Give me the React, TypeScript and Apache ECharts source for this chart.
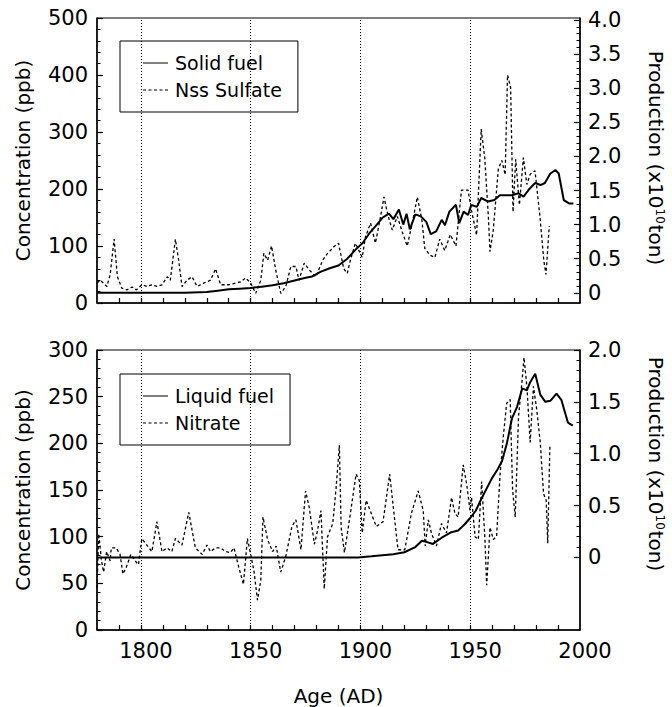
import React, { useEffect, useRef } from "react";
import * as echarts from "echarts";

// ---- Data (year, value) ----
// Solid fuel production (x10^10 ton), right axis of top panel
const solidFuel: [number, number][] = [
  [1780, 0.0], [1790, 0.0], [1800, 0.0], [1810, 0.0], [1820, 0.0], [1830, 0.01],
  [1835, 0.03], [1840, 0.05], [1845, 0.06], [1850, 0.07], [1855, 0.09], [1860, 0.11],
  [1865, 0.14], [1870, 0.18], [1875, 0.22], [1878, 0.24], [1882, 0.31], [1886, 0.36],
  [1890, 0.4], [1894, 0.5], [1898, 0.64], [1901, 0.73], [1904, 0.87], [1907, 0.98],
  [1910, 1.1], [1913, 1.16], [1915, 1.08], [1917.5, 1.22], [1919.5, 1.0], [1921, 1.16],
  [1922.5, 0.93], [1925, 1.15], [1927.5, 1.12], [1930, 1.04], [1932, 0.86], [1934.5, 0.9],
  [1937, 1.07], [1938.5, 0.99], [1940.5, 1.19], [1943.5, 1.29], [1945, 1.02], [1947, 1.19],
  [1949, 1.14], [1950.5, 1.29], [1953, 1.26], [1955, 1.39], [1958, 1.34], [1961, 1.36],
  [1963.5, 1.43], [1969, 1.43], [1972, 1.46], [1974.3, 1.41], [1976.6, 1.51], [1979.6, 1.61],
  [1982, 1.58], [1984, 1.61], [1986.5, 1.75], [1988.8, 1.8], [1990.3, 1.75], [1992.6, 1.36],
  [1995, 1.31], [1997, 1.31],
];

// Nss Sulfate concentration (ppb), left axis of top panel
const nssSulfate: [number, number][] = [
  [1780, 35], [1781.5, 40], [1784.5, 29], [1786, 50], [1787.8, 112], [1789.3, 46],
  [1791.3, 26], [1793.6, 23], [1796, 28], [1798, 23], [1800.4, 32], [1802.7, 29],
  [1805, 32], [1807.3, 29], [1809.6, 32], [1812, 46], [1813.4, 40], [1815.7, 112],
  [1817.2, 75], [1818.7, 29], [1821, 40], [1823.3, 46], [1825.6, 29], [1828.6, 35],
  [1831.7, 40], [1834, 60], [1836.3, 32], [1840, 32], [1843, 35], [1845.4, 37],
  [1847.7, 44], [1850, 35], [1852.3, 17], [1854.6, 40], [1856, 87], [1857.7, 75],
  [1859.5, 100], [1861.4, 58], [1863.7, 17], [1866, 29], [1868.3, 64], [1870.6, 64],
  [1872, 40], [1874.4, 70], [1876.7, 58], [1879.7, 46], [1882.8, 75], [1885, 87],
  [1888, 99], [1890, 105], [1892.4, 60], [1894, 52], [1895.4, 75], [1897.7, 105],
  [1900.8, 80], [1902.3, 116], [1904.6, 140], [1906.8, 105], [1909.1, 150], [1910.7, 186],
  [1912.5, 154], [1914.5, 128], [1916.8, 152], [1919, 125], [1921.3, 100], [1923.6, 140],
  [1925.9, 186], [1928, 145], [1929.3, 96], [1931.6, 84], [1933.9, 80], [1936.1, 112],
  [1938.4, 92], [1940.9, 120], [1943.5, 100], [1946, 198], [1949, 198], [1950.6, 162],
  [1952.9, 119], [1955, 305], [1956.6, 255], [1958.3, 149], [1959, 90], [1960.5, 128],
  [1962.8, 235], [1964.4, 250], [1965.9, 225], [1967, 400], [1968.4, 378], [1969.5, 160],
  [1970.7, 252], [1972.4, 172], [1974.2, 255], [1975.8, 208], [1977.3, 226], [1979.5, 232],
  [1981.8, 150], [1983.5, 75], [1984.5, 50], [1986, 135],
];

// Liquid fuel production (x10^10 ton), right axis of bottom panel
const liquidFuel: [number, number][] = [
  [1780, 0], [1800, 0], [1850, 0], [1880, 0], [1899, 0], [1905, 0.01], [1910, 0.02],
  [1915, 0.03], [1920, 0.05], [1925, 0.1], [1928, 0.16], [1930, 0.15], [1933, 0.13],
  [1937, 0.19], [1941, 0.24], [1944.5, 0.26], [1947.5, 0.32], [1950, 0.38], [1952.5, 0.45],
  [1955.2, 0.57], [1959.8, 0.76], [1962.5, 0.85], [1964.5, 0.93], [1966.7, 1.1], [1969, 1.34],
  [1971.3, 1.45], [1973.7, 1.63], [1975.8, 1.61], [1977.3, 1.69], [1979.6, 1.77], [1981.9, 1.57],
  [1984.2, 1.5], [1986.5, 1.51], [1989.3, 1.58], [1991.5, 1.52], [1993.4, 1.38], [1994.5, 1.3],
  [1996.7, 1.27],
];

// Nitrate concentration (ppb), left axis of bottom panel
const nitrate: [number, number][] = [
  [1780, 45], [1780.8, 103], [1782, 75], [1783, 62], [1784.4, 84], [1786, 74], [1786.5, 88],
  [1788.7, 88], [1790.5, 81], [1791.8, 60], [1793.3, 67], [1795.4, 81], [1797.4, 74],
  [1798.9, 70], [1800.4, 98], [1802.7, 91], [1805, 84], [1807.3, 116], [1809.6, 84],
  [1811.9, 88], [1814.1, 84], [1815.7, 98], [1818.7, 91], [1821.8, 126], [1824.8, 88],
  [1827.9, 81], [1830.1, 91], [1831.7, 84], [1834, 88], [1836.3, 88], [1838.6, 84],
  [1840.8, 83], [1842.4, 88], [1844.6, 67], [1846.7, 49], [1848.5, 98], [1850, 81],
  [1851.5, 63], [1853.1, 32], [1854.6, 53], [1855.6, 121], [1857.7, 97], [1860, 84],
  [1861.6, 90], [1863.7, 62], [1866, 79], [1868.8, 111], [1870.6, 118], [1872.9, 86],
  [1875, 149], [1876.7, 131], [1879, 92], [1880.5, 107], [1882, 128], [1883.5, 44],
  [1885, 100], [1887.4, 114], [1888.9, 152], [1890.4, 198], [1891.2, 110], [1892.7, 83],
  [1895, 118], [1898, 167], [1899.5, 160], [1900.8, 104], [1902.6, 139], [1904.9, 125],
  [1907.2, 111], [1910.3, 116], [1913.3, 167], [1917.1, 86], [1920.2, 86], [1923.2, 125],
  [1926.3, 149], [1928.6, 128], [1929.5, 90], [1930.9, 118], [1932.3, 104], [1934.6, 90],
  [1936.9, 114], [1939.2, 104], [1941.5, 142], [1943, 125], [1944.5, 121], [1946.8, 177],
  [1948.4, 156], [1949.9, 128], [1950.6, 142], [1952.2, 100], [1953.7, 97], [1955.2, 159],
  [1956.7, 97], [1957.5, 48], [1959, 110], [1960.5, 97], [1962, 100], [1963.6, 167],
  [1965.1, 208], [1966.6, 243], [1968.2, 247], [1969.3, 150], [1970.5, 121], [1972, 229],
  [1973.5, 264], [1974.5, 292], [1975.8, 261], [1977.3, 201], [1978.8, 261], [1980.3, 236],
  [1981.9, 201], [1983.4, 146], [1984.6, 139], [1985.3, 93], [1986.3, 198],
];

// ---- Axis ticks / labels ----
const xLabelYears = [1800, 1850, 1900, 1950, 2000];
const xTickYears = [1790, 1800, 1810, 1820, 1830, 1840, 1850, 1860, 1870, 1880, 1890, 1900, 1910, 1920, 1930, 1940, 1950, 1960, 1970, 1980, 1990];
const refLineYears = [1800, 1850, 1900, 1950];
const topRightLabels = [0, 0.5, 1, 1.5, 2, 2.5, 3, 3.5, 4];
const bottomRightLabels = [0, 0.5, 1, 1.5, 2];
const tenths = (maxTenths: number) => Array.from({ length: maxTenths + 1 }, (_, i) => i / 10);

const FONT = "DejaVu Sans";
const BLACK = "#000";

// legend icons: a solid bar and a dashed bar (25 x 1 units)
const SOLID_ICON = "path://M0,0H25V1H0Z";
const DASHED_ICON =
  "path://M0,0H3V1H0Z M5.5,0H8.5V1H5.5Z M11,0H14V1H11Z M16.5,0H19.5V1H16.5Z M22,0H25V1H22Z";

function xAxisCfg(gridIndex: number, showLabels: boolean): any {
  return {
    type: "value",
    gridIndex,
    min: 1780,
    max: 2000,
    axisLine: { show: true, lineStyle: { color: BLACK, width: 1.5 } },
    axisTick: { show: true, inside: true, length: 5, customValues: xTickYears, lineStyle: { color: BLACK, width: 1.2 } },
    axisLabel: {
      show: showLabels,
      customValues: xLabelYears,
      color: BLACK,
      fontFamily: FONT,
      fontSize: 21,
      margin: 10,
      padding: [0, 0, 0, 10],
      formatter: (v: number) => String(v),
    },
    splitLine: { show: false },
    name: showLabels ? "Age (AD)" : "",
    nameLocation: "middle",
    nameGap: 56,
    nameTextStyle: { color: BLACK, fontFamily: FONT, fontSize: 20 },
  };
}

function leftAxisCfg(gridIndex: number, max: number, interval: number): any {
  return {
    type: "value",
    gridIndex,
    position: "left",
    min: 0,
    max,
    interval,
    axisLine: { show: true, lineStyle: { color: BLACK, width: 1.5 } },
    axisTick: { show: true, inside: true, length: 6, lineStyle: { color: BLACK, width: 1.2 } },
    minorTick: { show: true, splitNumber: 5, length: 3.5, lineStyle: { color: BLACK, width: 1 } },
    axisLabel: { color: BLACK, fontFamily: FONT, fontSize: 21, margin: 9 },
    splitLine: { show: false },
    minorSplitLine: { show: false },
    name: "Concentration (ppb)",
    nameLocation: "middle",
    nameGap: 64,
    nameTextStyle: { color: BLACK, fontFamily: FONT, fontSize: 20 },
  };
}

function rightAxisCfg(gridIndex: number, min: number, max: number, labels: number[]): any {
  return {
    type: "value",
    gridIndex,
    position: "right",
    min,
    max,
    axisLine: { show: true, lineStyle: { color: BLACK, width: 1.5 } },
    axisTick: { show: true, inside: true, length: 6, customValues: labels, lineStyle: { color: BLACK, width: 1.2 } },
    axisLabel: {
      customValues: labels,
      color: BLACK,
      fontFamily: FONT,
      fontSize: 21,
      margin: 8,
      formatter: (v: number) => (v === 0 ? "0" : v.toFixed(1)),
    },
    splitLine: { show: false },
  };
}

function rightMinorAxisCfg(gridIndex: number, min: number, max: number, ticks: number[]): any {
  return {
    type: "value",
    gridIndex,
    position: "right",
    min,
    max,
    axisLine: { show: false },
    axisTick: { show: true, inside: true, length: 3.5, customValues: ticks, lineStyle: { color: BLACK, width: 1 } },
    axisLabel: { show: false },
    splitLine: { show: false },
  };
}

const dotted = { color: BLACK, width: 1.3, type: [3, 2.5] as number[] };
const refMarkLine = {
  silent: true,
  symbol: ["none", "none"],
  label: { show: false },
  lineStyle: { color: BLACK, width: 1, type: [1, 2] as number[] },
  data: refLineYears.map((y) => ({ xAxis: y })),
};

function legendCfg(top: number, solidName: string, dashedName: string): any {
  return {
    orient: "vertical",
    left: 120,
    top,
    data: [
      { name: solidName, icon: SOLID_ICON },
      { name: dashedName, icon: DASHED_ICON },
    ],
    backgroundColor: "#fff",
    borderColor: BLACK,
    borderWidth: 1,
    borderRadius: 0,
    padding: [12, 16, 12, 23],
    itemWidth: 25,
    itemHeight: 1.4,
    itemGap: 7,
    selectedMode: false,
    itemStyle: { color: BLACK, borderWidth: 0 },
    textStyle: { color: BLACK, fontFamily: FONT, fontSize: 19, lineHeight: 20, padding: [0, 0, 0, 2] },
  };
}

const supRich = {
  sup: { fontSize: 12, fontFamily: FONT, verticalAlign: "top", fill: BLACK, padding: [0, 1, 8, 0] },
};

function prodLabel(y: number): any {
  return {
    type: "text",
    x: 656,
    y,
    rotation: -Math.PI / 2,
    style: {
      text: "Production (x10{sup|10}ton)",
      rich: supRich,
      fontFamily: FONT,
      fontSize: 20,
      fill: BLACK,
      align: "center",
      verticalAlign: "middle",
    },
  };
}

export default function App() {
  const ref = useRef<HTMLDivElement>(null);

  useEffect(() => {
    if (!ref.current) return;
    const chart = echarts.init(ref.current, null, { renderer: "svg" });
    const option: any = {
      animation: false,
      backgroundColor: "#fff",
      grid: [
        { left: 97, top: 18, width: 483, height: 285, show: true, borderColor: BLACK, borderWidth: 1, backgroundColor: "transparent" },
        { left: 97, top: 350, width: 483, height: 287, show: true, borderColor: BLACK, borderWidth: 1, backgroundColor: "transparent" },
      ],
      xAxis: [xAxisCfg(0, false), xAxisCfg(1, true)],
      yAxis: [
        leftAxisCfg(0, 500, 100),
        rightAxisCfg(0, -0.15, 4.03, topRightLabels),
        rightMinorAxisCfg(0, -0.15, 4.03, tenths(40)),
        leftAxisCfg(1, 300, 50),
        rightAxisCfg(1, -0.7, 2.0, bottomRightLabels),
        rightMinorAxisCfg(1, -0.7, 2.0, tenths(20)),
      ],
      legend: [
        legendCfg(41, "Solid fuel", "Nss Sulfate"),
        legendCfg(374, "Liquid fuel", "Nitrate"),
      ],
      graphic: [prodLabel(158), prodLabel(464)],
      series: [
        {
          name: "Solid fuel",
          type: "line",
          xAxisIndex: 0,
          yAxisIndex: 1,
          data: solidFuel,
          showSymbol: false,
          symbol: "none",
          lineStyle: { color: BLACK, width: 2 },
          itemStyle: { color: BLACK },
          z: 3,
        },
        {
          name: "Nss Sulfate",
          type: "line",
          xAxisIndex: 0,
          yAxisIndex: 0,
          data: nssSulfate,
          showSymbol: false,
          symbol: "none",
          lineStyle: dotted,
          itemStyle: { color: BLACK },
          markLine: refMarkLine,
          z: 2,
        },
        {
          name: "Liquid fuel",
          type: "line",
          xAxisIndex: 1,
          yAxisIndex: 4,
          data: liquidFuel,
          showSymbol: false,
          symbol: "none",
          lineStyle: { color: BLACK, width: 2 },
          itemStyle: { color: BLACK },
          z: 3,
        },
        {
          name: "Nitrate",
          type: "line",
          xAxisIndex: 1,
          yAxisIndex: 3,
          data: nitrate,
          showSymbol: false,
          symbol: "none",
          lineStyle: dotted,
          itemStyle: { color: BLACK },
          markLine: refMarkLine,
          z: 2,
        },
      ],
    };
    chart.setOption(option);
    return () => chart.dispose();
  }, []);

  return (
    <div
      ref={ref}
      style={{ position: "fixed", left: 0, top: 0, width: 672, height: 707, background: "#fff" }}
    />
  );
}
